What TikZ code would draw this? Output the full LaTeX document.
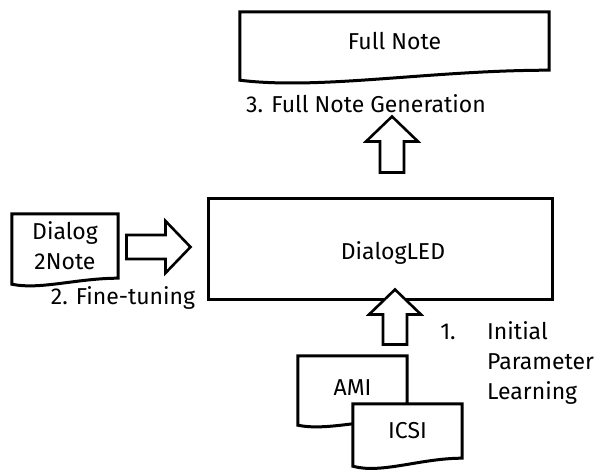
\documentclass[tikz,border=0pt]{standalone}
\usepackage{fontspec}
\setmainfont{Fira Sans}
\usetikzlibrary{calc,backgrounds}

\tikzset{
	box/.style={draw,line width=3pt,inner sep=0pt},
	docnode/.style={inner sep=0pt},
	docline/.style={draw,fill=white,line width=3pt,line join=miter},
	fatline/.style={draw,fill=white,line width=2.6pt,line join=miter},
	lbl/.style={inner sep=0pt},
	pics/fatarrow/.style={code={
		\draw[fatline] (0,0) -- (-25,26) -- (-25,12) -- (-#1,12) -- (-#1,-12) -- (-25,-12) -- (-25,-26) -- cycle;
	}}
}
% outline of a document with a wavy bottom
\newcommand\docshape[2]{
	\draw[docline] ($(#1.south west)+(0,-#2)$) -- (#1.north west) -- (#1.north east) -- (#1.south east)
		.. controls ($(#1.south east)!0.385!(#1.south west)$) and ($(#1.south west)!0.26!(#1.south east)+(0,-2*#2)$) .. cycle;
}

\begin{document}
\begin{tikzpicture}[x=1pt,y=1pt,every node/.style={font=\fontsize{23}{30}\selectfont}]
	\useasboundingbox (0,0) rectangle (599,475);
	\node[docnode,minimum width=309pt,minimum height=58pt] (full) at (394.5,434) {Full Note};
	\node[box,minimum width=344pt,minimum height=101pt,label={[xshift=13pt,yshift=-4pt]center:DialogLED}] (dled) at (380,226.5) {};
	\node[docnode,minimum width=106pt,minimum height=64pt,align=center] (dtn) at (65,229) {Dialog\\2Note};
	\node[docnode,minimum width=109pt,minimum height=63pt] (ami) at (352.5,87.5) {AMI};
	\node[docnode,minimum width=109pt,minimum height=54pt] (icsi) at (407.5,44) {ICSI};
	\begin{scope}[on background layer]
		\docshape{full}{10}
		\docshape{dtn}{6}
		\docshape{ami}{6}
		\docshape{icsi}{8}
	\end{scope}
	\pic[rotate=90] at ($(dled.north)+(12,80)$) {fatarrow=56};
	\pic at ($(dled.west)+(-16,1.5)$) {fatarrow=64};
	\pic[rotate=90] at ($(dled.south)+(15,11)$) {fatarrow=55};
	\node[lbl] (genlbl) at (366,371) {3. Full Note Generation};
	\node[lbl] (ftlbl) at (123,177) {2. Fine-tuning};
	\node[lbl] (steplbl) at (448,143) {1.};
	\node[lbl,anchor=west,align=left] (initlbl) at (487,112) {Initial\\Parameter\\Learning};
\end{tikzpicture}
\end{document}
